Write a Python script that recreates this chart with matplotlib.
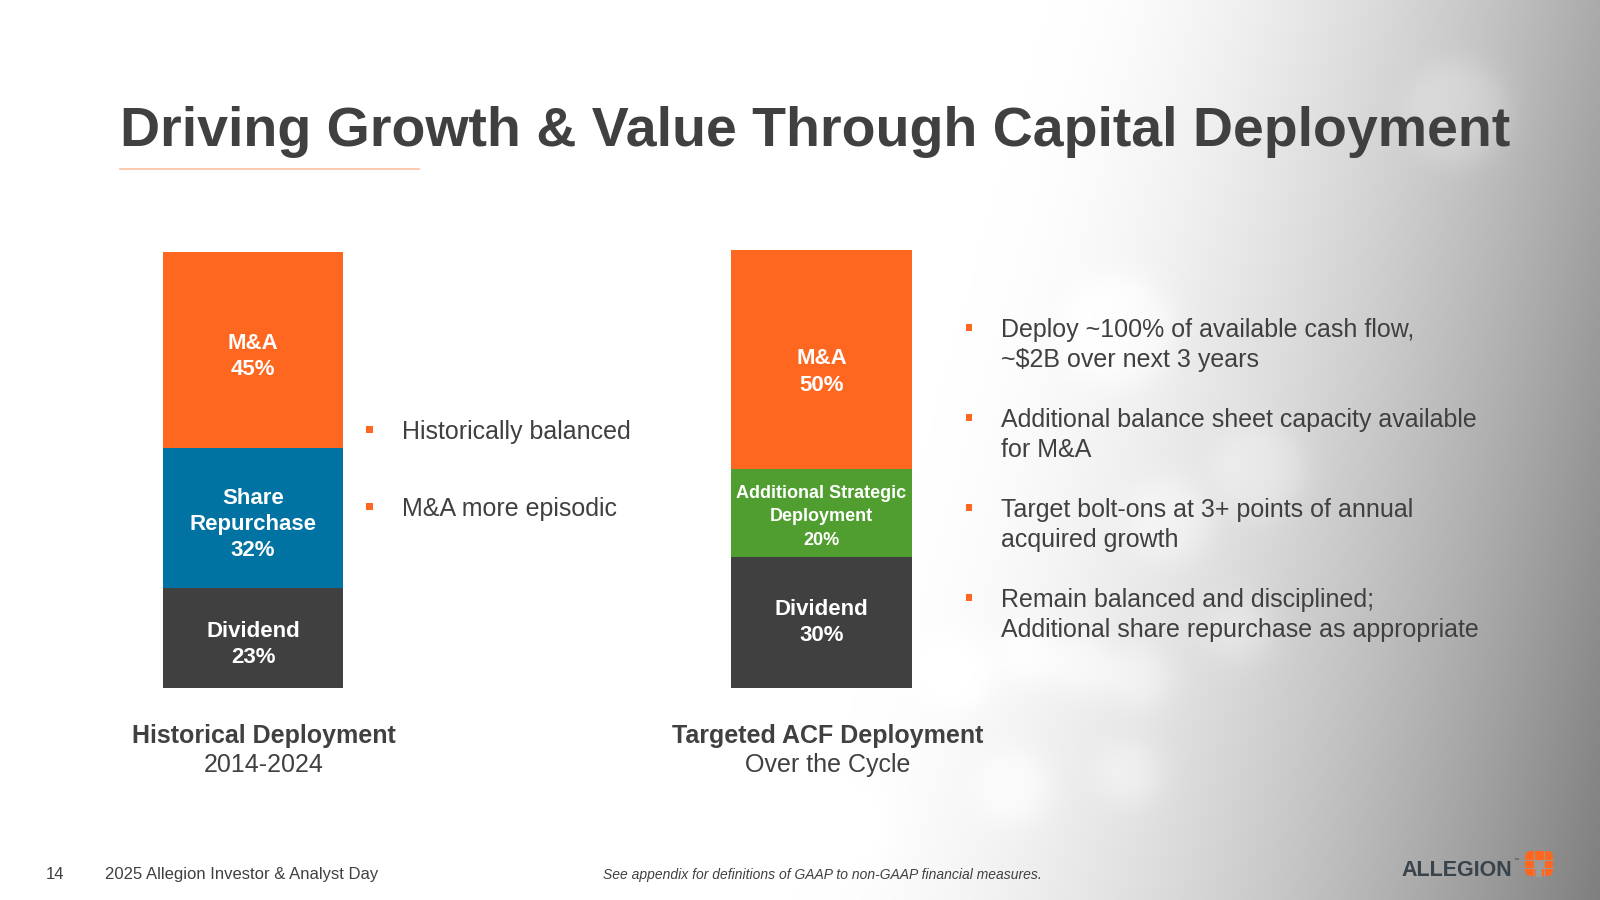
import numpy as np
import matplotlib.pyplot as plt
from matplotlib.patches import Rectangle, FancyBboxPatch

plt.rcParams['font.family'] = ['Liberation Sans', 'DejaVu Sans']

# data
hist_labels = ['Dividend\n23%', 'Share\nRepurchase\n32%', 'M&A\n45%']
hist_values = [23, 32, 45]
hist_colors = ['#404040', '#0073A2', '#FE671F']

target_labels = ['Dividend\n30%', 'Additional Strategic\nDeployment\n20%', 'M&A\n50%']
target_values = [30, 20, 50]
target_colors = ['#404040', '#509E2F', '#FE671F']

left_bullets = ['Historically balanced', 'M&A more episodic']
right_bullets = [
    ['Deploy ~100% of available cash flow,', '~$2B over next 3 years'],
    ['Additional balance sheet capacity available', 'for M&A'],
    ['Target bolt-ons at 3+ points of annual', 'acquired growth'],
    ['Remain balanced and disciplined;', 'Additional share repurchase as appropriate'],
]

TXT = '#404040'
ORANGE = '#FE671F'
W, H = 1600, 900

fig = plt.figure(figsize=(16, 9), dpi=100)

# background: white on the left, grey wash with soft bokeh on the right
bg = fig.add_axes([0, 0, 1, 1])
bg.set_xlim(0, W)
bg.set_ylim(H, 0)
bg.axis('off')
xs = np.linspace(0, W, 320)
ys = np.linspace(0, H, 180)
X, Y = np.meshgrid(xs, ys)
u, v = X / W, Y / H
start = 0.66 - 0.16 * v
t = np.clip((u - start) / (1 - start), 0, 1)
depth = 0.33 + 0.17 * v
g = 1 - depth * t ** 1.6
blobs = [(955, 675, 35), (1030, 655, 30), (1085, 668, 28), (1140, 680, 30),
         (1130, 775, 30), (1015, 790, 35), (850, 830, 35), (720, 785, 30),
         (1240, 630, 30), (1170, 520, 40), (1260, 470, 45), (1120, 330, 55),
         (1460, 110, 50)]
for bx, by, br in blobs:
    r = np.hypot(X - bx, Y - by)
    g = g + 0.07 * t ** 0.5 / (1 + np.exp((r - br) / 8))
g = np.clip(g, 0, 1)
bg.imshow(np.dstack([g, g, g]), extent=(0, W, H, 0), interpolation='bilinear',
          aspect='auto', zorder=0)

# title
bg.text(120, 146, 'Driving Growth & Value Through Capital Deployment',
        fontsize=40, fontweight='bold', color=TXT, va='baseline')
bg.plot([120, 419], [169, 169], color='#FCC5A8', lw=1.3)


def stacked_bar(rect, values, colors, labels, sizes, spacing, shifts):
    ax = fig.add_axes(rect)
    ax.set_xlim(-0.5, 0.5)
    ax.set_ylim(0, 100)
    ax.axis('off')
    ax.patch.set_alpha(0)
    bottom = 0
    for val, col, lab, fs, ls, sh in zip(values, colors, labels, sizes, spacing, shifts):
        ax.bar(0, val, width=1, bottom=bottom, color=col, edgecolor='none')
        ax.annotate(lab, (0, bottom + val / 2), xytext=(0, -sh),
                    textcoords='offset points', ha='center', va='center',
                    color='white', fontsize=fs, fontweight='bold', linespacing=ls)
        bottom += val
    return ax


stacked_bar([163 / W, 1 - 688 / H, 180 / W, 436 / H],
            hist_values, hist_colors, hist_labels,
            [16, 16, 16], [1.32, 1.32, 1.32], [4.5, 4.5, 4.5])
stacked_bar([731 / W, 1 - 688 / H, 181 / W, 438 / H],
            target_values, target_colors, target_labels,
            [16, 13, 16], [1.32, 1.5, 1.32], [0, 3, 9])

# bar captions
bg.text(264, 743, 'Historical Deployment', ha='center', va='baseline',
        fontsize=18, fontweight='bold', color=TXT)
bg.text(264, 772, '2014-2024', ha='center', va='baseline', fontsize=18, color=TXT)
bg.text(828, 743, 'Targeted ACF Deployment', ha='center', va='baseline',
        fontsize=18, fontweight='bold', color=TXT)
bg.text(828, 772, 'Over the Cycle', ha='center', va='baseline', fontsize=18, color=TXT)

# bullets
for i, line in enumerate(left_bullets):
    yb = 439 + i * 77
    bg.add_patch(Rectangle((366, yb - 13), 7, 7, color=ORANGE, lw=0))
    bg.text(402, yb, line, fontsize=18, color=TXT, va='baseline')

for i, lines in enumerate(right_bullets):
    yb = 337 + i * 90
    bg.add_patch(Rectangle((966, yb - 13), 6, 7, color=ORANGE, lw=0))
    for j, line in enumerate(lines):
        bg.text(1001, yb + j * 30, line, fontsize=18, color=TXT, va='baseline')

# footer
bg.text(46, 879, '14', fontsize=12, color=TXT, va='baseline')
bg.text(105, 879, '2025 Allegion Investor & Analyst Day', fontsize=12,
        color=TXT, va='baseline')
bg.text(603, 879, 'See appendix for definitions of GAAP to non-GAAP financial measures.',
        fontsize=10, style='italic', color=TXT, va='baseline')

# logo
bg.text(1401, 876, 'ALLEGION', fontsize=15.5, fontweight='bold', color='#39434C',
        va='baseline')
bg.text(1514, 862, '™', fontsize=4, color='#39434C')
bg.add_patch(FancyBboxPatch((1525, 851), 28, 25, boxstyle='round,pad=0,rounding_size=6',
                            fc=ORANGE, ec='none'))
hole = '#9a9a9a'
bg.add_patch(Rectangle((1534, 860), 10, 8, color=hole, lw=0))
bg.add_patch(Rectangle((1536, 868), 6, 9, color=hole, lw=0))
for gx in (1534, 1544):
    bg.plot([gx, gx], [851, 876], color=hole, lw=0.7)
for gy in (860, 868):
    bg.plot([1525, 1553], [gy, gy], color=hole, lw=0.7)

fig.savefig('out.png', dpi=100)
